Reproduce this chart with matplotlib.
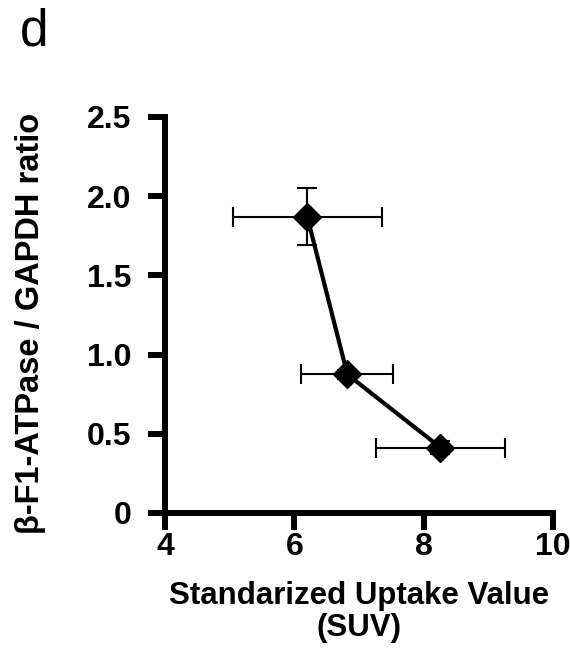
import matplotlib
matplotlib.use('Agg')
import matplotlib.pyplot as plt

plt.rcParams['font.family'] = ['Liberation Sans', 'DejaVu Sans']

# Data
suv = [6.20, 6.82, 8.26]
suv_err = [1.15, 0.71, 0.99]
ratio = [1.87, 0.875, 0.413]
ratio_err = [0.18, 0.03, 0.04]

x_ticks = [4, 6, 8, 10]
y_ticks = [0, 0.5, 1.0, 1.5, 2.0, 2.5]
y_tick_labels = ['0', '0.5', '1.0', '1.5', '2.0', '2.5']

fig = plt.figure(figsize=(5.7, 6.51), dpi=100)
ax = fig.add_axes((165 / 570, 1 - 513 / 651, (553 - 165) / 570, (513 - 117) / 651))

# error bars (thin) then the connecting line and markers
ax.errorbar(suv, ratio, xerr=suv_err, yerr=ratio_err, fmt='none', ecolor='black',
            elinewidth=1.5, capsize=7, capthick=1.5, zorder=2)
ax.plot(suv, ratio, color='black', lw=3, marker='D', markersize=14.5,
        markerfacecolor='black', markeredgecolor='black', zorder=3, clip_on=False)

ax.set_xlim(4, 10)
ax.set_ylim(0, 2.5)
ax.set_xticks(x_ticks)
ax.set_yticks(y_ticks)
ax.set_yticklabels(y_tick_labels)

for side in ['top', 'right']:
    ax.spines[side].set_visible(False)
for side in ['left', 'bottom']:
    ax.spines[side].set_linewidth(4.3)

ax.tick_params(axis='both', direction='out', length=12, width=4.3, labelsize=23)
ax.tick_params(axis='y', pad=12)
ax.tick_params(axis='x', pad=2)
for lbl in ax.get_xticklabels() + ax.get_yticklabels():
    lbl.set_fontweight('bold')

ax.set_xlabel('Standarized Uptake Value\n(SUV)', fontsize=22.5, fontweight='bold',
              linespacing=1.1)
ax.set_ylabel('β-F1-ATPase / GAPDH ratio', fontsize=23.5, fontweight='bold')
ax.xaxis.set_label_coords(359 / 570, 1 - 581 / 651, transform=fig.transFigure)
ax.xaxis.label.set_va('top')
ax.yaxis.set_label_coords(31 / 570, 1 - 323 / 651, transform=fig.transFigure)
ax.yaxis.label.set_va('center')

fig.text(20 / 570, 1 - 46 / 651, 'd', fontsize=37, ha='left', va='baseline')

fig.savefig('out.png', dpi=100)
